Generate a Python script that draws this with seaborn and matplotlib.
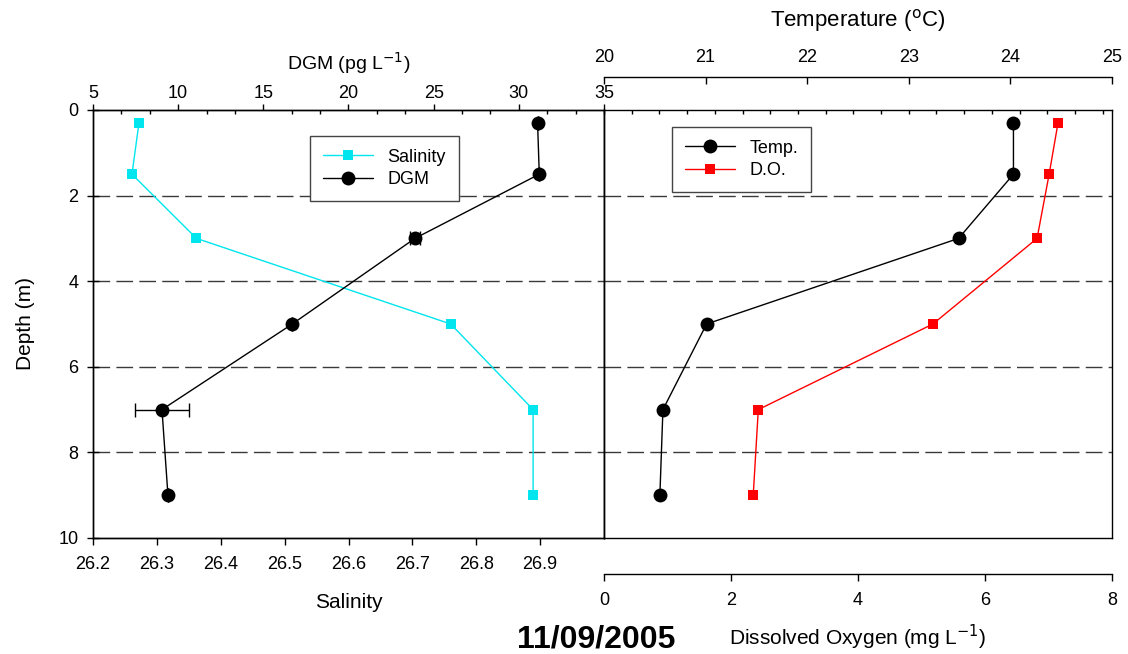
import matplotlib
matplotlib.use("Agg")
import matplotlib.pyplot as plt
import seaborn as sns
import numpy as np
import pandas as pd
from matplotlib.ticker import MultipleLocator, AutoMinorLocator
from matplotlib.lines import Line2D

# ---------------- data ----------------
depth = [0.3, 1.5, 3.0, 5.0, 7.0, 9.0]
salinity = [26.272, 26.261, 26.362, 26.760, 26.889, 26.889]
dgm = [31.1, 31.2, 23.9, 16.7, 9.05, 9.4]
dgm_err = [0.0, 0.0, 0.3, 0.0, 1.6, 0.0]
temperature = [24.03, 24.03, 23.49, 21.01, 20.58, 20.55]
dissolved_oxygen = [7.15, 7.01, 6.82, 5.18, 2.43, 2.35]

depth_ticks = [0, 2, 4, 6, 8, 10]
grid_depths = [2, 4, 6, 8]
sal_ticks = [26.2, 26.3, 26.4, 26.5, 26.6, 26.7, 26.8, 26.9]
dgm_ticks = [5, 10, 15, 20, 25, 30, 35]
temp_ticks = [20, 21, 22, 23, 24, 25]
do_ticks = [0, 2, 4, 6, 8]

df = pd.DataFrame({"depth": depth, "sal": salinity, "dgm": dgm,
                   "temp": temperature, "do": dissolved_oxygen})

sns.set_theme(style="white")
plt.rcParams["font.family"] = ["Liberation Sans", "DejaVu Sans"]
plt.rcParams["axes.linewidth"] = 1.0
plt.rcParams["text.color"] = "black"
plt.rcParams["axes.labelcolor"] = "black"
plt.rcParams["xtick.color"] = "black"
plt.rcParams["ytick.color"] = "black"

W, H = 1128, 654
fig = plt.figure(figsize=(W / 100, H / 100), dpi=100)

def fx(px):
    return px / W

def fy(py):
    return 1 - py / H

x_l0, x_mid, x_r1 = 93, 604, 1112
y_top, y_bot = 110, 538

ax_s = fig.add_axes([fx(x_l0), fy(y_bot), fx(x_mid - x_l0), (y_bot - y_top) / H])
ax_r = fig.add_axes([fx(x_mid), fy(y_bot), fx(x_r1 - x_mid), (y_bot - y_top) / H])

TICK_FS = 13
LAB_FS = 15
dash_style = (0, (12, 4.5))
grid_col = "#3a3a3a"

# ---------- left panel: salinity ----------
sns.lineplot(data=df, x="sal", y="depth", sort=False, estimator=None, ax=ax_s,
             color="#00e5ee", marker="s", markersize=7, markeredgewidth=0,
             linewidth=1.0, label="Salinity", legend=False)
ax_s.set_xlim(26.2, 27.0)
ax_s.set_ylim(10, 0)
ax_s.set_xticks(sal_ticks)
ax_s.set_xticklabels([f"{v:.1f}" for v in sal_ticks])
ax_s.set_yticks(depth_ticks)
ax_s.set_xlabel("Salinity", fontsize=LAB_FS, labelpad=14)
ax_s.set_ylabel("Depth (m)", fontsize=LAB_FS, labelpad=17)
ax_s.tick_params(axis="x", direction="out", length=5, width=1, labelsize=TICK_FS,
                 bottom=True, pad=8)
ax_s.tick_params(axis="y", direction="inout", length=9, width=1, labelsize=TICK_FS,
                 left=True, pad=6)
for sp in ax_s.spines.values():
    sp.set_color("black")
for d in grid_depths:
    ax_s.axhline(d, color=grid_col, lw=1.0, ls=dash_style, zorder=0)

# ---------- left panel: DGM (top axis) ----------
ax_d = ax_s.twiny()
ax_d.errorbar(dgm, depth, xerr=dgm_err, fmt="none", ecolor="black",
              elinewidth=1.0, capsize=5, capthick=1.0, zorder=3)
sns.lineplot(data=df, x="dgm", y="depth", sort=False, estimator=None, ax=ax_d,
             color="black", marker="o", markersize=10, markeredgewidth=0,
             linewidth=1.0, label="DGM", legend=False)
ax_d.set_xlim(5, 35)
ax_d.set_ylim(10, 0)
ax_d.set_xticks(dgm_ticks)
ax_d.xaxis.set_minor_locator(AutoMinorLocator(3))
ax_d.set_xlabel("DGM (pg L$^{-1}$)", fontsize=LAB_FS - 1, labelpad=11)
ax_d.tick_params(axis="x", which="major", direction="out", length=4, width=1,
                 labelsize=TICK_FS, top=True, pad=1.5)
ax_d.tick_params(axis="x", which="minor", direction="in", length=3, width=1, top=True)
for sp in ax_d.spines.values():
    sp.set_color("black")

h1 = [Line2D([], [], color="#00e5ee", marker="s", markersize=7, markeredgewidth=0, lw=1.0),
      Line2D([], [], color="black", marker="o", markersize=10, markeredgewidth=0, lw=1.0)]
leg1 = ax_d.legend(h1, ["Salinity", "DGM"], loc="upper left",
                   bbox_to_anchor=(fx(310), fy(136)), bbox_transform=fig.transFigure,
                   fontsize=TICK_FS, frameon=True, fancybox=False, framealpha=1,
                   edgecolor="#444444", handlelength=2.8, borderpad=0.7,
                   labelspacing=0.3, handletextpad=0.8, borderaxespad=0)
leg1.get_frame().set_linewidth(1.0)

# ---------- right panel frame ----------
ax_r.set_ylim(10, 0)
ax_r.set_xlim(0, (x_r1 - x_mid) / 27.7)
ax_r.set_yticks([])
for sp in ax_r.spines.values():
    sp.set_color("black")
for d in grid_depths:
    ax_r.axhline(d, color=grid_col, lw=1.0, ls=dash_style, zorder=0)

# ---------- right panel: temperature (top, offset) ----------
ax_t = ax_r.twiny()
sns.lineplot(data=df, x="temp", y="depth", sort=False, estimator=None, ax=ax_t,
             color="black", marker="o", markersize=10, markeredgewidth=0,
             linewidth=1.0, label="Temp.", legend=False)
ax_t.set_xlim(20, 25)
ax_t.set_ylim(10, 0)
ax_t.set_xticks(temp_ticks)
ax_t.spines["top"].set_position(("outward", 24))
for k in ["left", "right", "bottom"]:
    ax_t.spines[k].set_visible(False)
ax_t.spines["top"].set_color("black")
ax_t.tick_params(axis="x", direction="in", length=5, width=1, labelsize=TICK_FS,
                 top=True, pad=8)
ax_t.set_xlabel("Temperature ($^{\\rm o}$C)", fontsize=LAB_FS + 1, labelpad=16)

# ---------- right panel: dissolved oxygen (bottom, offset) ----------
ax_o = ax_r.twiny()
sns.lineplot(data=df, x="do", y="depth", sort=False, estimator=None, ax=ax_o,
             color="#ff0000", marker="s", markersize=7, markeredgewidth=0,
             linewidth=1.0, label="D.O.", legend=False)
ax_o.set_xlim(0, 8)
ax_o.set_ylim(10, 0)
ax_o.xaxis.set_ticks_position("bottom")
ax_o.xaxis.set_label_position("bottom")
ax_o.set_xticks(do_ticks)
ax_o.spines["bottom"].set_position(("outward", 26))
for k in ["left", "right", "top"]:
    ax_o.spines[k].set_visible(False)
ax_o.spines["bottom"].set_visible(True)
ax_o.spines["bottom"].set_color("black")
ax_o.tick_params(axis="x", direction="out", length=5, width=1, labelsize=TICK_FS,
                 bottom=True, top=False, labelbottom=True, labeltop=False, pad=8)
ax_o.set_xlabel("Dissolved Oxygen (mg L$^{-1}$)", fontsize=LAB_FS, labelpad=10)

# frame minor ticks on top of right panel only (after twinning)
ax_r.set_xticks([])
ax_r.xaxis.set_minor_locator(MultipleLocator(1))
ax_r.tick_params(axis="x", which="both", bottom=False, labelbottom=False,
                 top=True, labeltop=False)
ax_r.tick_params(axis="x", which="minor", direction="in", length=3, width=1)

h2 = [Line2D([], [], color="black", marker="o", markersize=10, markeredgewidth=0, lw=1.0),
      Line2D([], [], color="#ff0000", marker="s", markersize=7, markeredgewidth=0, lw=1.0)]
leg2 = ax_o.legend(h2, ["Temp.", "D.O."], loc="upper left",
                   bbox_to_anchor=(fx(672), fy(127)), bbox_transform=fig.transFigure,
                   fontsize=TICK_FS, frameon=True, fancybox=False, framealpha=1,
                   edgecolor="#444444", handlelength=2.8, borderpad=0.7,
                   labelspacing=0.3, handletextpad=0.8, borderaxespad=0)
leg2.get_frame().set_linewidth(1.0)

fig.text(fx(596), fy(640), "11/09/2005", fontsize=23, fontweight="bold",
         ha="center", va="center")

fig.savefig("out.png", dpi=100)
